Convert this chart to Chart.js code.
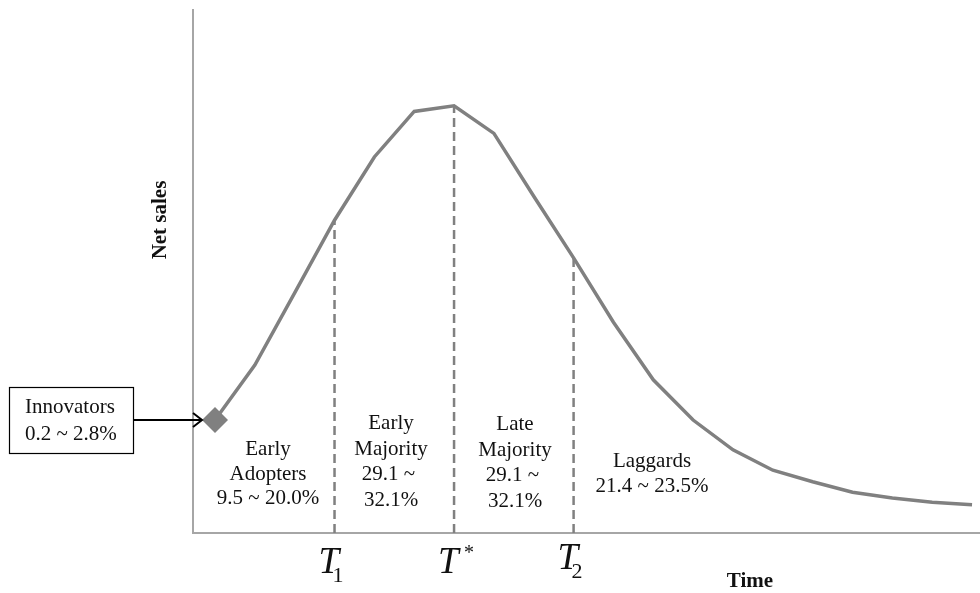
<!DOCTYPE html>
<html>
<head>
<meta charset="utf-8">
<script src="https://cdn.jsdelivr.net/npm/chart.js@4.4.1/dist/chart.umd.min.js"></script>
<style>
  html, body { margin: 0; padding: 0; background: #ffffff; }
  #wrap { width: 980px; height: 593px; }
</style>
</head>
<body>
<div id="wrap"><canvas id="c" width="980" height="593"></canvas></div>
<script>
// Time steps along the product life cycle
const periods = [0, 1, 2, 3, 4, 5, 6, 7, 8, 9, 10, 11, 12, 13, 14, 15, 16, 17, 18, 19];
// Net sales at each step (relative units, 0-100)
const netSales = [21.6, 32.1, 45.9, 59.8, 71.9, 80.6, 81.7, 76.4, 64.4, 52.6,
                  40.3, 29.3, 21.6, 15.9, 12.0, 9.8, 7.8, 6.7, 5.9, 5.4];
// Adopter-group boundaries: T1, T*, T2 (indices into periods)
const boundaryIdx = [3, 6, 9];
const boundaryNames = [['T', '1', 'sub'], ['T', '*', 'sup'], ['T', '2', 'sub']];
// Adopter-group labels
const groupLabels = [
  ['Early', 'Adopters', '9.5 ~ 20.0%'],
  ['Early', 'Majority', '29.1 ~ ', '32.1%'],
  ['Late', 'Majority', '29.1 ~ ', '32.1%'],
  ['Laggards', '21.4 ~ 23.5%']
];
const innovatorLabel = ['Innovators', '0.2 ~ 2.8%'];

const GREY = '#808080';
const AXIS = '#a6a6a6';
const SERIF = '"Liberation Serif", "Times New Roman", serif';

const curve = periods.map((p, i) => ({ x: p, y: netSales[i] }));
const dashSets = boundaryIdx.map(i => ({
  data: [{ x: periods[i], y: 0 }, { x: periods[i], y: netSales[i] }],
  borderColor: GREY,
  borderWidth: 2.5,
  borderDash: [9, 5],
  pointRadius: 0,
  fill: false,
  order: 2
}));

const annotations = {
  id: 'annotations',
  afterDraw(chart) {
    const ctx = chart.ctx;
    const xs = chart.scales.x, ys = chart.scales.y;
    ctx.save();
    ctx.fillStyle = '#111';
    ctx.textBaseline = 'alphabetic';

    // group labels
    ctx.font = '21px ' + SERIF;
    ctx.textAlign = 'center';
    const groupPos = [
      { x: 268, y: [455, 480, 504] },
      { x: 391, y: [429, 455, 480, 506] },
      { x: 515, y: [430, 456, 481, 507] },
      { x: 652, y: [467, 492] }
    ];
    groupLabels.forEach((lines, g) => {
      lines.forEach((t, k) => ctx.fillText(t, groupPos[g].x, groupPos[g].y[k]));
    });

    // innovators box and arrow
    ctx.textAlign = 'left';
    ctx.fillText(innovatorLabel[0], 25, 413);
    ctx.fillText(innovatorLabel[1], 25, 440);
    ctx.strokeStyle = '#000';
    ctx.lineWidth = 1.2;
    ctx.strokeRect(9.5, 387.5, 124, 66);
    const tipX = xs.getPixelForValue(periods[0]) - 13;
    const tipY = ys.getPixelForValue(netSales[0]);
    ctx.lineWidth = 2;
    ctx.beginPath();
    ctx.moveTo(134, tipY);
    ctx.lineTo(tipX, tipY);
    ctx.stroke();
    ctx.beginPath();
    ctx.moveTo(tipX - 9, tipY - 7);
    ctx.lineTo(tipX, tipY);
    ctx.lineTo(tipX - 9, tipY + 7);
    ctx.stroke();

    // boundary labels T1, T*, T2
    boundaryIdx.forEach((idx, k) => {
      const px = xs.getPixelForValue(periods[idx]);
      const [main, mark, kind] = boundaryNames[k];
      ctx.textAlign = 'left';
      ctx.font = 'italic 37px ' + SERIF;
      const baseY = k === 2 ? 569 : 573;
      const tx = px - 16;
      ctx.fillText(main, tx, baseY);
      if (kind === 'sub') {
        ctx.font = '22px ' + SERIF;
        ctx.fillText(mark, tx + 14, baseY + 9);
      } else {
        ctx.font = '20px ' + SERIF;
        ctx.fillText(mark, tx + 26, baseY - 14);
      }
    });

    // axis titles
    ctx.font = 'bold 21px ' + SERIF;
    ctx.textAlign = 'center';
    ctx.fillText('Time', 750, 587);
    ctx.save();
    ctx.translate(166, 220);
    ctx.rotate(-Math.PI / 2);
    ctx.fillText('Net sales', 0, 0);
    ctx.restore();

    ctx.restore();
  }
};

new Chart(document.getElementById('c'), {
  type: 'line',
  data: {
    datasets: [
      {
        data: curve,
        borderColor: GREY,
        backgroundColor: GREY,
        borderWidth: 3.5,
        tension: 0,
        fill: false,
        clip: false,
        pointStyle: 'rectRot',
        pointRadius: ctx => (ctx.dataIndex === 0 ? 13 : 0),
        pointBorderWidth: 0,
        pointBackgroundColor: GREY,
        order: 1
      },
      ...dashSets
    ]
  },
  options: {
    responsive: false,
    animation: false,
    events: [],
    layout: { autoPadding: false, padding: { left: 193, top: 10, right: 0, bottom: 60 } },
    plugins: { legend: { display: false }, tooltip: { enabled: false } },
    scales: {
      x: {
        type: 'linear',
        min: -0.552,
        max: 19.2,
        grid: { display: false, drawTicks: false },
        ticks: { display: false },
        border: { display: true, color: AXIS, width: 2 }
      },
      y: {
        min: 0,
        max: 100,
        grid: { display: false, drawTicks: false },
        ticks: { display: false },
        border: { display: true, color: AXIS, width: 2 }
      }
    }
  },
  plugins: [annotations]
});
</script>
</body>
</html>
